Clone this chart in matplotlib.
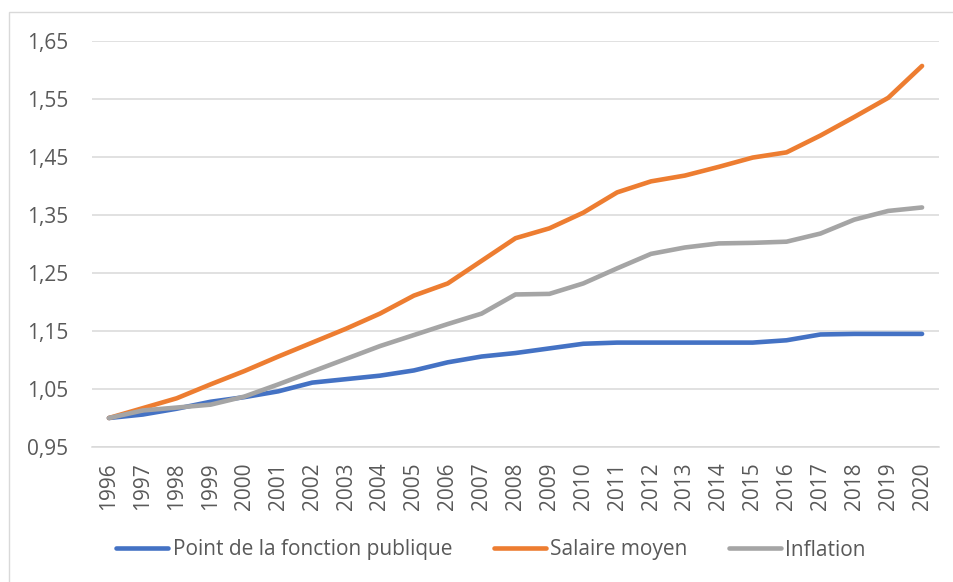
import matplotlib
matplotlib.use("Agg")
import matplotlib.pyplot as plt
import numpy as np
from matplotlib.ticker import FuncFormatter
from matplotlib.patches import Rectangle

years = [str(y) for y in range(1996, 2021)]
point_fp = [1.000, 1.006, 1.016, 1.028, 1.036, 1.046, 1.061, 1.067, 1.073, 1.082,
            1.096, 1.106, 1.112, 1.120, 1.128, 1.130, 1.130, 1.130, 1.130, 1.130,
            1.134, 1.144, 1.145, 1.145, 1.145]
salaire = [1.000, 1.017, 1.034, 1.058, 1.081, 1.106, 1.130, 1.154, 1.180, 1.211,
           1.232, 1.271, 1.310, 1.327, 1.354, 1.389, 1.408, 1.418, 1.433, 1.449,
           1.458, 1.487, 1.519, 1.552, 1.607]
inflation = [1.000, 1.013, 1.018, 1.023, 1.037, 1.058, 1.080, 1.102, 1.124, 1.143,
             1.162, 1.180, 1.213, 1.214, 1.232, 1.258, 1.283, 1.294, 1.301, 1.302,
             1.304, 1.318, 1.342, 1.357, 1.363]
y_ticks = [0.95, 1.05, 1.15, 1.25, 1.35, 1.45, 1.55, 1.65]
labels = ["Point de la fonction publique", "Salaire moyen", "Inflation"]
colors = ["#4472C4", "#ED7D31", "#A5A5A5"]

plt.rcParams['font.family'] = ['Open Sans', 'DejaVu Sans']
text_color = "#595959"
fs = 15

W, H = 954, 582
fig = plt.figure(figsize=(W / 100, H / 100), dpi=100)
ax = fig.add_axes([92 / W, 1 - 447 / H, (939 - 92) / W, (447 - 41) / H])

x = list(range(len(years)))
for series, lab, col in zip([point_fp, salaire, inflation], labels, colors):
    ax.plot(x, series, color=col, lw=3.3, solid_capstyle='round',
            solid_joinstyle='round', label=lab, zorder=3)

ax.set_xlim(-0.5, len(years) - 0.5)
ax.set_ylim(0.95, 1.65)
ax.set_yticks(y_ticks)
ax.yaxis.set_major_formatter(FuncFormatter(lambda v, p: f"{v:.2f}".replace('.', ',')))
ax.set_xticks(x)
ax.set_xticklabels(years, rotation=90)
ax.grid(axis='y', color='#D9D9D9', lw=1.1, zorder=0)
for s in ['top', 'right', 'left']:
    ax.spines[s].set_visible(False)
ax.spines['bottom'].set_color('#D9D9D9')
ax.spines['bottom'].set_linewidth(1.1)
ax.tick_params(axis='both', length=0, colors=text_color, labelsize=fs)
ax.tick_params(axis='y', pad=17)
ax.tick_params(axis='x', pad=11)

leg = fig.legend(loc='center', bbox_to_anchor=(491 / W, 1 - 550 / H), ncol=3,
                 frameon=False, fontsize=fs, handlelength=2.5,
                 handletextpad=0.2, columnspacing=2.0)
for t in leg.get_texts():
    t.set_color(text_color)

fig.patches.append(Rectangle((9 / W, -0.1), 1.2, 1 - 12 / H + 0.1,
                             transform=fig.transFigure, fill=False,
                             edgecolor='#D9D9D9', lw=1.0))

fig.savefig("out.png", dpi=100)
